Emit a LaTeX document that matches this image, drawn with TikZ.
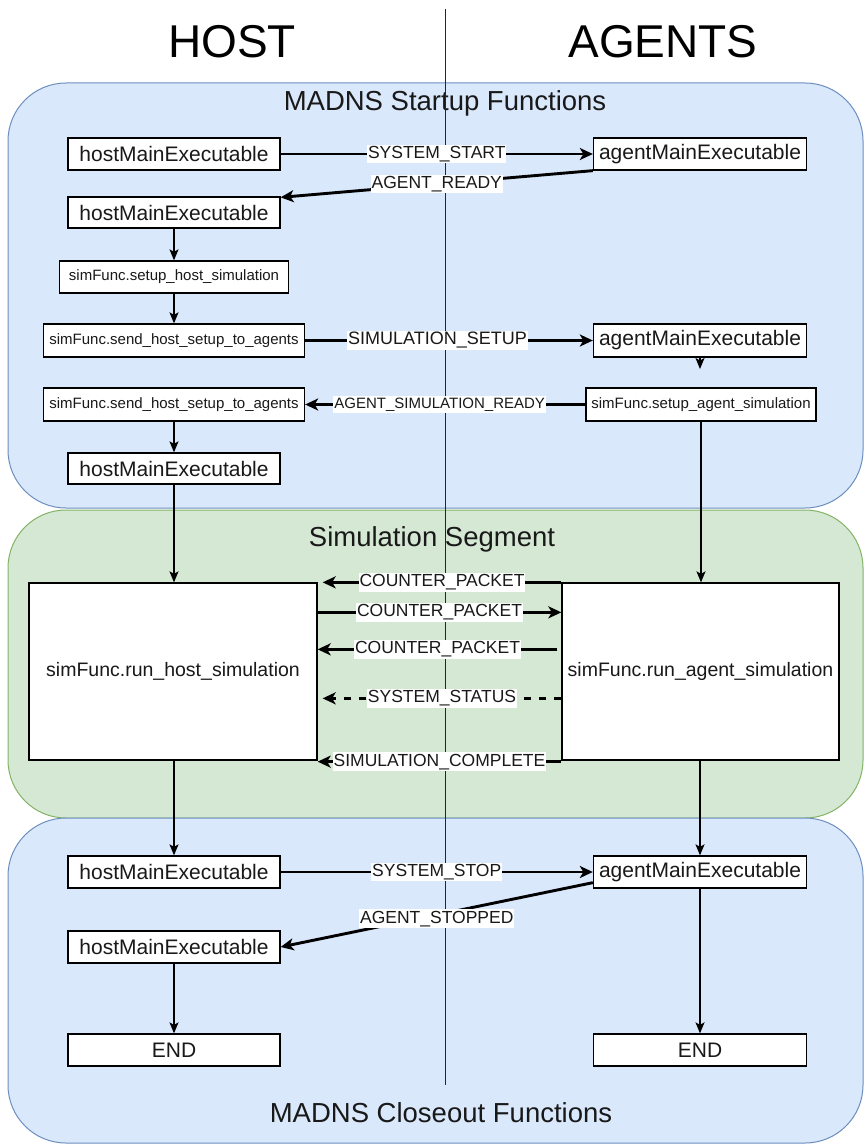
\documentclass[tikz,border=0pt]{standalone}
\usepackage{fontspec}
\setmainfont{Liberation Sans}
\usetikzlibrary{arrows.meta}

\definecolor{laneblue}{HTML}{DAE8FC}
\definecolor{laneblueedge}{HTML}{6C8EBF}
\definecolor{lanegreen}{HTML}{D5E8D4}
\definecolor{lanegreenedge}{HTML}{82B366}

\newcommand\fsz[1]{\fontsize{#1}{#1}\selectfont}

\tikzset{
  lane/.style={rounded corners=58pt, line width=1pt},
  lanetitle/.style={inner sep=0pt, font=\fsz{27.5}, text=black!90},
  header/.style={inner sep=0pt, font=\fsz{46}, text=black},
  box/.style={draw=black, line width=1.3pt, fill=white, inner sep=0pt,
              font=\fsz{21}, text=black!90},
  smallbox/.style={box, font=\fsz{15}},
  msg/.style={line width=2.9pt, draw=black,
              -{Stealth[length=13pt,width=12pt,inset=3.5pt]}},
  flow/.style={line width=1.4pt, draw=black,
               -{Stealth[length=11pt,width=9pt,inset=2.5pt]}},
  tag/.style={fill=white, inner xsep=1pt, inner ysep=1.5pt,
              font=\fsz{17.5}, text=black!90},
}

\begin{document}
\begin{tikzpicture}[x=1pt, y=-1pt]
\useasboundingbox (0,0) rectangle (864,1145);

% swim-lane backgrounds
\draw[lane, fill=laneblue, draw=laneblueedge] (8,83) rectangle (863,508);
\draw[lane, fill=lanegreen, draw=lanegreenedge] (8,510) rectangle (863,818);
\draw[lane, fill=laneblue, draw=laneblueedge] (8,818) rectangle (863,1143);

\node[lanetitle] (tstart) at (445,103) {MADNS Startup Functions};
\node[lanetitle] (tsim) at (432,539) {Simulation Segment};
\node[lanetitle] (tclose) at (441,1113) {MADNS Closeout Functions};

% host / agents divider
\coordinate (divtop) at (445,9);
\coordinate (divbot) at (445,1085);
\draw[line width=1pt, draw=black!85] (divtop) -- (divbot);

\node[header] (hhost) at (232,42) {HOST};
\node[header] (hagents) at (663,42) {AGENTS};

% startup boxes
\node[box, minimum width=212pt, minimum height=32pt] (hme1) at (174,154) {hostMainExecutable};
\node[box, minimum width=213pt, minimum height=32pt] (ame1) at (700,154) {agentMainExecutable};
\node[box, minimum width=212pt, minimum height=31pt] (hme2) at (174,212.5) {hostMainExecutable};
\node[smallbox, minimum width=229pt, minimum height=32pt] (setuph) at (174,277) {simFunc.setup\_host\_simulation};
\node[smallbox, minimum width=261pt, minimum height=33pt] (send1) at (174,340.5) {simFunc.send\_host\_setup\_to\_agents};
\node[box, minimum width=213pt, minimum height=33pt] (ame2) at (700,340.5) {agentMainExecutable};
\node[smallbox, minimum width=230pt, minimum height=33pt] (setupa) at (701,404.5) {simFunc.setup\_agent\_simulation};
\node[smallbox, minimum width=261pt, minimum height=33pt] (send2) at (174,404.5) {simFunc.send\_host\_setup\_to\_agents};
\node[box, minimum width=212pt, minimum height=31pt] (hme3) at (174,468.5) {hostMainExecutable};

% simulation boxes
\node[box, font=\fsz{19.5}, minimum width=288pt, minimum height=177pt] (runh) at (173,671.5) {simFunc.run\_host\_simulation};
\node[box, font=\fsz{19.5}, minimum width=277pt, minimum height=177pt] (runa) at (700.5,671.5) {simFunc.run\_agent\_simulation};

% closeout boxes
\node[box, minimum width=212pt, minimum height=32pt] (hme4) at (174,872) {hostMainExecutable};
\node[box, minimum width=213pt, minimum height=32pt] (ame4) at (700,872) {agentMainExecutable};
\node[box, minimum width=212pt, minimum height=32pt] (hme5) at (174,947) {hostMainExecutable};
\node[box, minimum width=212pt, minimum height=32pt] (endh) at (174,1050) {END};
\node[box, minimum width=213pt, minimum height=32pt] (enda) at (700,1050) {END};

% startup messages and flow
\draw[msg] (hme1) -- node[tag]{SYSTEM\_START} (ame1);
\draw[msg] (ame1.south west) -- node[tag]{AGENT\_READY} ([yshift=-1pt]hme2.north east);
\draw[flow] (hme2.south) -- (hme2.south |- setuph.north);
\draw[flow] (setuph.south) -- (setuph.south |- send1.north);
\draw[msg] (send1) -- node[tag, pos=0.46, font=\fsz{18}]{SIMULATION\_SETUP} (ame2);
\coordinate (stub) at (700,369);
\draw[flow] (ame2.south) -- (stub);
\draw[msg] (setupa) -- node[tag, pos=0.52, font=\fsz{15}]{AGENT\_SIMULATION\_READY} (send2);
\draw[flow] (send2.south) -- (send2.south |- hme3.north);
\draw[flow] (hme3.south) -- (hme3.south |- runh.north);
\draw[flow] (setupa.south) -- (setupa.south |- runa.north);

% simulation exchange
\draw[msg] (runa.north west) -- node[tag]{COUNTER\_PACKET} ([xshift=5pt]runh.north east);
\draw[msg] ([yshift=-30pt]runh.north east) -- node[tag]{COUNTER\_PACKET} ([yshift=-30pt]runa.north west);
\draw[msg] ([xshift=-4pt,yshift=-67pt]runa.north west) -- node[tag]{COUNTER\_PACKET} ([yshift=-67pt]runh.north east);
\draw[msg, dash pattern=on 7pt off 8pt] ([yshift=-116pt]runa.north west) -- node[tag]{SYSTEM\_STATUS} ([xshift=5pt,yshift=-116pt]runh.north east);
\draw[msg] ([yshift=-1pt]runa.south west) -- node[tag]{SIMULATION\_COMPLETE} ([yshift=-1pt]runh.south east);

% into closeout
\draw[flow] (hme4.north |- runh.south) -- (hme4.north);
\draw[flow] (ame4.north |- runa.south) -- (ame4.north);

% closeout messages and flow
\draw[msg] (hme4) -- node[tag]{SYSTEM\_STOP} (ame4);
\draw[msg] ([yshift=6pt]ame4.south west) -- node[tag, yshift=-4pt]{AGENT\_STOPPED} (hme5.east);
\draw[flow] (hme5.south) -- (endh.north);
\draw[flow] (ame4.south) -- (enda.north);
\end{tikzpicture}
\end{document}
